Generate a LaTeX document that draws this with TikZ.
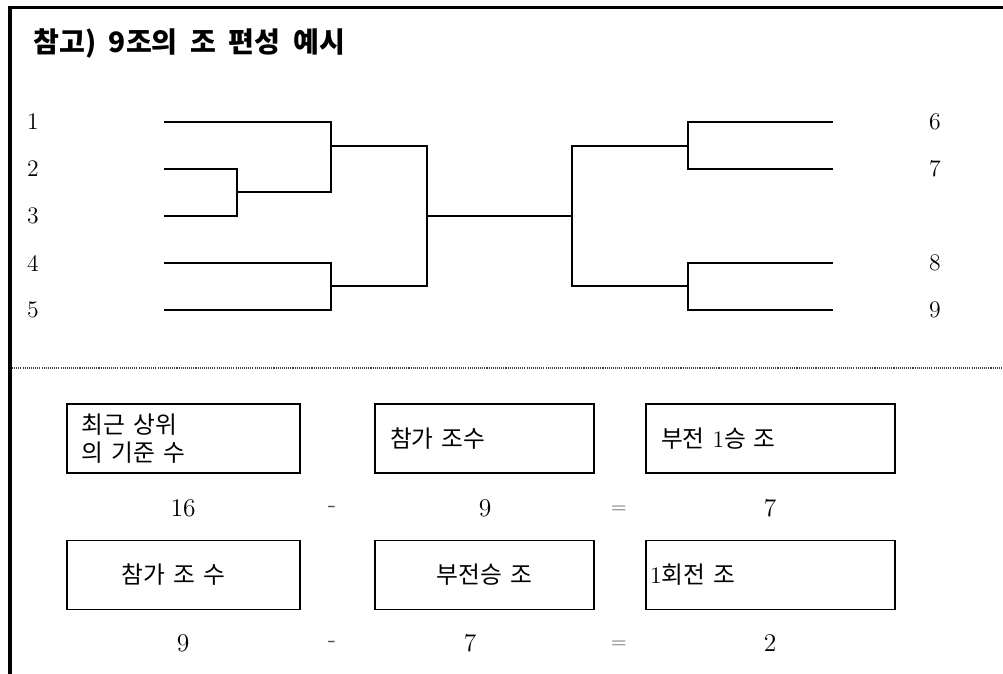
\documentclass[tikz,border=0pt]{standalone}
\usepackage{fontspec}
\newfontfamily\krfont{Noto Sans CJK KR}
\usepackage{tikz}
\usetikzlibrary{positioning}

\begin{document}
\begin{tikzpicture}[x=0.2mm,y=-0.2mm,
seed/.style={font=\fontsize{13.5}{16}\selectfont},
box/.style={draw,rectangle,line width=0.6pt,minimum height=13.8mm,inner xsep=3mm,align=left,
    font=\krfont\fontsize{13.5}{16}\selectfont},
calc/.style={font=\fontsize{14.5}{17}\selectfont},
bline/.style={line width=1.4pt}]
\useasboundingbox (0,0) rectangle (1003,674);
\draw[line width=1.8pt] (1003,7.5) -- (10,7.5) -- (10,674);
\node (title) [anchor=west,inner sep=0pt,font=\krfont\bfseries\fontsize{16}{19}\selectfont]
    at (33,43) {참고)\hspace{0.45em}9조의\hspace{0.45em}조\hspace{0.45em}편성\hspace{0.45em}예시};

\foreach \i/\y in {1/122,2/169,3/216,4/263,5/310} {
  \node (n\i) [seed] at (33,\y) {\i};
  \coordinate (s\i) at (164,\y);
}
\foreach \i/\y in {6/122,7/169,8/263,9/310} {
  \node (n\i) [seed] at (935,\y) {\i};
  \coordinate (s\i) at (833,\y);
}
\coordinate (m23) at (237,192);
\coordinate (ma) at (331,146);
\coordinate (mb) at (331,286);
\coordinate (fl) at (427,216);
\coordinate (fr) at (572,216);
\coordinate (mc) at (688,146);
\coordinate (md) at (688,286);

\draw[bline] (s2) -| (m23) (s3) -| (m23);
\draw[bline] (s1) -| (ma) (m23) -| (ma);
\draw[bline] (s4) -| (mb) (s5) -| (mb);
\draw[bline] (ma) -| (fl) (mb) -| (fl);
\draw[bline] (fl) -- (fr);
\draw[bline] (fr) |- (mc) (fr) |- (md);
\draw[bline] (mc) |- (s6) (mc) |- (s7) (md) |- (s8) (md) |- (s9);

\draw[black!75,line width=0.6pt,dash pattern=on 0.6pt off 0.6pt] (12,368) -- (1003,368);

\node (kbase) [box,text width=40.6mm] at (183.5,438.5) {최근 상위\\의 기준 수};
\node (kteam) [box,text width=37.8mm] at (484.5,438.5) {참가 조수};
\node (kbye) [box,text width=43.8mm] at (770.5,438.5) {부전 {\rmfamily 1}승 조};
\node (v1) [calc] at (183,508) {16};
\node (op1) [calc,black!70] at (332,509) {-};
\node (v2) [calc] at (485,508) {9};
\node (op2) [calc,black!70,scale=0.8] at (619,510) {=};
\node (v3) [calc] at (770,508) {7};

\node (kteam2) [box,text width=40.6mm] at (183.5,575) {\hspace*{8mm}참가 조 수};
\node (kbye2) [box,text width=37.8mm,align=center] at (484.5,575) {부전승 조};
\node (kfirst) [box,text width=48.2mm,inner xsep=0.8mm] at (770.5,575) {{\rmfamily 1}회전 조};
\node (w1) [calc] at (183,643) {9};
\node (op3) [calc,black!70] at (332,644) {-};
\node (w2) [calc] at (470,643) {7};
\node (op4) [calc,black!70,scale=0.8] at (619,645) {=};
\node (w3) [calc] at (770,643) {2};
\end{tikzpicture}
\end{document}
